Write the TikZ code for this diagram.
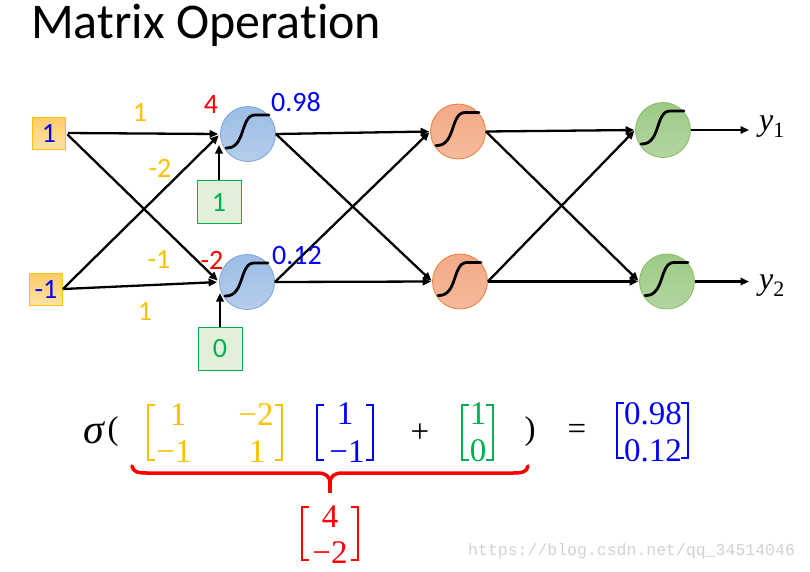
\documentclass[tikz,border=0pt]{standalone}
\usepackage{fontspec}
\newfontfamily\carl[Ligatures={NoCommon}]{Carlito}
\newfontfamily\tms{Liberation Serif}
\newfontfamily\mono{Liberation Mono}
\usetikzlibrary{arrows.meta,calc}
\definecolor{ored}{HTML}{FFC000}
\definecolor{bblue}{HTML}{0000FF}
\definecolor{rred}{HTML}{FF0000}
\definecolor{ggreen}{HTML}{00B050}
\definecolor{nbtop}{HTML}{9BBDE6}
\definecolor{nbbot}{HTML}{B6CDEB}
\definecolor{nbdraw}{HTML}{7AA3D6}
\definecolor{notop}{HTML}{F2A987}
\definecolor{nobot}{HTML}{F6BB9C}
\definecolor{nodraw}{HTML}{ED7D31}
\definecolor{ngtop}{HTML}{9CCB85}
\definecolor{ngbot}{HTML}{B4D5A2}
\definecolor{ngdraw}{HTML}{86BC62}
\definecolor{ibtop}{HTML}{FFCC66}
\definecolor{ibbot}{HTML}{FFE2A6}
\definecolor{bbfill}{HTML}{E2F0D9}
\begin{document}
\begin{tikzpicture}[x=1pt,y=-1pt,
  arr/.style={line width=2.3pt,-{Triangle[length=8.5pt,width=7.5pt]}},
  neuron/.style={circle,minimum size=55pt,inner sep=0pt,line width=0.8pt},
  bneuron/.style={neuron,draw=nbdraw,top color=nbtop,bottom color=nbbot},
  oneuron/.style={neuron,draw=nodraw,top color=notop,bottom color=nobot},
  gneuron/.style={neuron,draw=ngdraw,top color=ngtop,bottom color=ngbot},
  lab/.style={font=\carl\fontsize{28}{32}\selectfont,inner sep=0pt},
  inbox/.style={lab,draw=ored,line width=0.8pt,top color=ibtop,bottom color=ibbot,minimum width=33pt,minimum height=32pt,text=bblue},
  biasbox/.style={lab,draw=ggreen,line width=0.8pt,fill=bbfill,minimum width=44pt,minimum height=43pt,text=ggreen},
  eq/.style={font=\tms\fontsize{33}{38}\selectfont,inner sep=0pt},
  brk/.style={line width=1.6pt},
  sig/.pic={\draw[line width=2.8pt,line cap=round] (-22,14) .. controls (-2,15) and (-8,-19) .. (7,-19) -- (21,-19);}
]
\useasboundingbox (0,0) rectangle (810,571);
% title
\node[anchor=base west,inner sep=0pt,font=\carl\fontsize{50}{60}\selectfont] (title) at (31,38) {Matrix Operation};

% inputs
\node[inbox] (i1) at (49,133) {1};
\node[inbox] (i2) at (46,289) {-1};
% hidden layers
\node[bneuron] (h1) at (248,134) {};
\node[bneuron] (h2) at (247,282) {};
\node[oneuron] (g1) at (458,131.5) {};
\node[oneuron] (g2) at (460,281.5) {};
\node[gneuron] (o1) at (663,130) {};
\node[gneuron] (o2) at (667,281.5) {};
\foreach \n in {h1,h2,g1,g2,o1,o2} \pic at (\n) {sig};
% biases
\node[biasbox] (b1) at (219,202) {1};
\node[biasbox] (b2) at (220,349) {0};
\coordinate (b1t) at (219,145);
\coordinate (b2t) at (220,293);
% outputs
\node[font=\tms\fontsize{32}{36}\selectfont,inner sep=0pt,anchor=west] (y1) at (759,127) {\textit{y}\raisebox{-7pt}{\fontsize{22}{24}\selectfont 1}};
\node[font=\tms\fontsize{32}{36}\selectfont,inner sep=0pt,anchor=west] (y2) at (759,286) {\textit{y}\raisebox{-7pt}{\fontsize{22}{24}\selectfont 2}};

% connectors
\draw[arr,shorten <=2pt,shorten >=2pt] (i1.east) -- (h1.west);
\draw[arr,shorten <=2pt,shorten >=2pt] (i1.east) -- (h2.west);
\draw[arr,shorten >=2pt] (i2.east) -- (h1.west);
\draw[arr,shorten >=2pt] (i2.east) -- (h2.west);
\draw[arr] (b1.north) -- (b1t);
\draw[arr] (b2.north) -- (b2t);
\draw[arr,shorten >=1pt] (h1.east) -- (g1.west);
\draw[arr,shorten >=1pt] (h1.east) -- (g2.west);
\draw[arr,shorten >=1pt] (h2.east) -- (g1.west);
\draw[arr,shorten >=1pt] (h2.east) -- (g2.west);
\draw[arr,shorten >=1pt] (g1.east) -- (o1.west);
\draw[arr,shorten >=1pt] (g1.east) -- (o2.west);
\draw[arr,shorten >=1pt] (g2.east) -- (o1.west);
\draw[arr,shorten >=1pt] (g2.east) -- (o2.west);
\draw[arr] (o1.east) -- ($(o1.east -| y1.west)+(-10,0)$);
\draw[arr] (o2.east) -- ($(o2.east -| y2.west)+(-10,0)$);

% weight labels
\node[lab,text=ored] (w11) at (140,112) {1};
\node[lab,text=ored] (w12) at (160,168) {-2};
\node[lab,text=ored] (w21) at (159,259) {-1};
\node[lab,text=ored] (w22) at (145,311) {1};
\node[lab,text=rred] (z1) at (211,105) {4};
\node[lab,text=rred] (z2) at (212,260) {-2};
\node[lab,text=bblue] (a1) at (296,102) {0.98};
\node[lab,text=bblue] (a2) at (297,256) {0.12};

% equation
\node[eq,font=\tms\fontsize{42}{46}\selectfont] (sg) at (94,433) {\itshape σ};
\node[eq] (lp) at (113,432) {(};
% orange matrix
\draw[brk,ored] (155,405) -- (148,405) -- (148,460) -- (155,460);
\draw[brk,ored] (275,405) -- (282,405) -- (282,460) -- (275,460);
\node[eq,text=ored] (m11) at (178,415) {1};
\node[eq,text=ored] (m12) at (256,415) {−2};
\node[eq,text=ored] (m21) at (174,452) {−1};
\node[eq,text=ored] (m22) at (257,452) {1};
% blue vector
\draw[brk,bblue] (324,405) -- (317,405) -- (317,460) -- (324,460);
\draw[brk,bblue] (366,405) -- (373,405) -- (373,460) -- (366,460);
\node[eq,text=bblue] (x1) at (345,414) {1};
\node[eq,text=bblue] (x2) at (347,452) {−1};
\node[eq] (plus) at (420,433) {+};
% green vector
\draw[brk,ggreen] (469,405) -- (462,405) -- (462,460) -- (469,460);
\draw[brk,ggreen] (486,405) -- (493,405) -- (493,460) -- (486,460);
\node[eq,text=ggreen] (c1) at (478,414) {1};
\node[eq,text=ggreen] (c2) at (478,451) {0};
\node[eq] (rp) at (530,432) {)};
\node[eq] (eqs) at (577,432) {=};
% result
\draw[brk,bblue] (624,403) -- (617,403) -- (617,458) -- (624,458);
\draw[brk,bblue] (681,403) -- (688,403) -- (688,458) -- (681,458);
\node[eq,text=bblue] (r1) at (653,414) {0.98};
\node[eq,text=bblue] (r2) at (653,451) {0.12};
% brace
\draw[rred,line width=3.5pt,line cap=round,line join=round]
  (132,466) .. controls (133,472) and (138,473) .. (147,473) -- (317,473)
  .. controls (326,473) and (330,476) .. (330,484)
  .. controls (330,476) and (334,473) .. (343,473) -- (513,473)
  .. controls (522,473) and (527,472) .. (528,466);
\draw[rred,line width=3.5pt] (330,480) -- (330,493);
% red vector
\draw[brk,rred] (309,507) -- (302,507) -- (302,560) -- (309,560);
\draw[brk,rred] (351,507) -- (358,507) -- (358,560) -- (351,560);
\node[eq,text=rred] (s1) at (330,517) {4};
\node[eq,text=rred] (s2) at (330,553) {−2};
% watermark
\node[anchor=west,inner sep=0pt,text=black!18,font=\mono\fontsize{16.5}{20}\selectfont] (wm) at (468,551) {https://blog.csdn.net/qq\_34514046};
\end{tikzpicture}
\end{document}
